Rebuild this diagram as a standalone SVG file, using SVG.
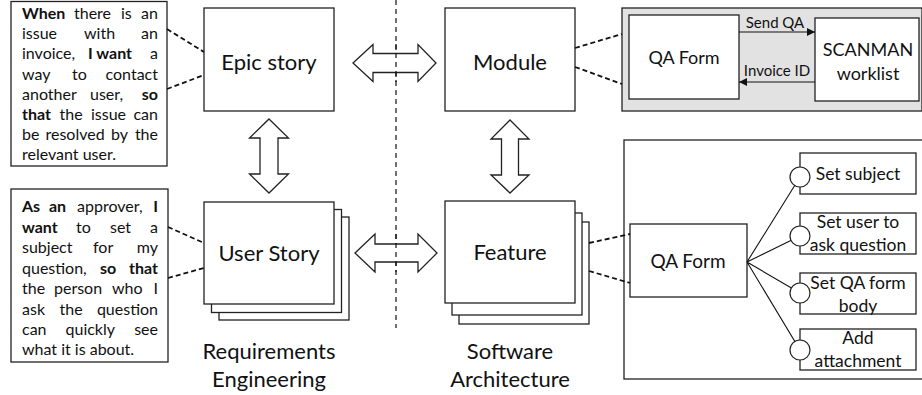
<svg xmlns="http://www.w3.org/2000/svg" width="922" height="395" viewBox="0 0 922 395">
<style>
.box{fill:#fff;stroke:#222;stroke-width:1.3}
.gray{fill:#e2e2e2;stroke:#222;stroke-width:1.3}
.t{font-family:Lato,"Liberation Sans",sans-serif;fill:#111}
.st{font-size:16px}
.b{font-weight:bold}
.lbl{font-size:22px;text-anchor:middle}
.mid{text-anchor:middle}
.end{text-anchor:end}
.dash{fill:none;stroke:#111;stroke-width:1.8;stroke-dasharray:5 3}
.div{fill:none;stroke:#111;stroke-width:1.2;stroke-dasharray:5 4}
.arr{fill:#fff;stroke:#222;stroke-width:1.3;stroke-linejoin:miter}
.ln{fill:none;stroke:#111;stroke-width:1.1}
.circ{fill:#fff;stroke:#222;stroke-width:1.2}
</style>
<defs>
<marker id="ah" viewBox="0 0 10 10" refX="10" refY="5" markerWidth="8" markerHeight="8" markerUnits="userSpaceOnUse" orient="auto">
<path d="M0,0 L10,5 L0,10 Z" fill="#111"/>
</marker>
</defs>

<g id="epic-text">
<rect class="box" x="11" y="1.5" width="156" height="164.5"/>
<g class="t st">
<text y="19"><tspan x="22" class="b">When</tspan><tspan x="74">there</tspan><tspan x="121">is</tspan></text><text class="t st end" x="158" y="19">an</text>
<text y="39"><tspan x="22">issue</tspan><tspan x="84">with</tspan></text><text class="t st end" x="158" y="39">an</text>
<text y="59"><tspan x="22">invoice,</tspan><tspan x="88" class="b">I want</tspan></text><text class="t st end" x="158" y="59">a</text>
<text y="79.5"><tspan x="22">way</tspan><tspan x="72">to</tspan></text><text class="t st end" x="158" y="79.5">contact</text>
<text y="99.5"><tspan x="22">another</tspan><tspan x="90">user,</tspan></text><text class="t st end b" x="158" y="99.5">so</text>
<text y="120"><tspan x="22" class="b">that</tspan><tspan x="59.5">the</tspan><tspan x="91">issue</tspan></text><text class="t st end" x="158" y="120">can</text>
<text y="140"><tspan x="22">be</tspan><tspan x="45.5">resolved</tspan><tspan x="111">by</tspan></text><text class="t st end" x="158" y="140">the</text>
<text x="22" y="160">relevant user.</text>
</g>
</g>

<g id="user-text">
<rect class="box" x="11" y="189" width="157" height="173"/>
<g class="t st">
<text y="212"><tspan x="22" class="b">As</tspan><tspan x="49" class="b">an</tspan><tspan x="77">approver,</tspan></text><text class="t st end b" x="158" y="212">I</text>
<text y="232.5"><tspan x="22" class="b">want</tspan><tspan x="76">to</tspan><tspan x="110">set</tspan></text><text class="t st end" x="158" y="232.5">a</text>
<text y="253"><tspan x="22">subject</tspan><tspan x="93">for</tspan></text><text class="t st end" x="158" y="253">my</text>
<text y="273.5"><tspan x="22">question,</tspan><tspan x="100" class="b">so</tspan></text><text class="t st end b" x="158" y="273.5">that</text>
<text y="294"><tspan x="22">the</tspan><tspan x="54">person</tspan><tspan x="112">who</tspan></text><text class="t st end" x="158" y="294">I</text>
<text y="314.5"><tspan x="22">ask</tspan><tspan x="59.5">the</tspan></text><text class="t st end" x="158" y="314.5">question</text>
<text y="335"><tspan x="22">can</tspan><tspan x="65.5">quickly</tspan></text><text class="t st end" x="158" y="335">see</text>
<text x="22" y="355">what it is about.</text>
</g>
</g>

<g id="epic-story">
<rect class="box" x="204" y="8" width="130" height="103"/>
<text class="t lbl" x="269" y="70">Epic story</text>
</g>

<g id="user-story">
<rect class="box" x="219" y="217" width="130" height="103"/>
<rect class="box" x="211.5" y="209.5" width="130" height="103"/>
<rect class="box" x="204" y="202" width="130" height="102"/>
<text class="t lbl" x="269" y="261">User Story</text>
</g>

<g id="module">
<rect class="box" x="445" y="8" width="130" height="103"/>
<text class="t lbl" x="510" y="70">Module</text>
</g>

<g id="feature">
<rect class="box" x="459" y="222" width="130" height="102"/>
<rect class="box" x="452" y="213" width="130" height="102"/>
<rect class="box" x="445" y="201" width="130" height="102"/>
<text class="t lbl" x="510" y="260">Feature</text>
</g>

<g id="captions">
<text class="t lbl" x="269" y="359">Requirements</text>
<text class="t lbl" x="269" y="387">Engineering</text>
<text class="t lbl" x="510" y="359">Software</text>
<text class="t lbl" x="510" y="387">Architecture</text>
</g>

<g id="module-detail">
<rect class="gray" x="622" y="8" width="300" height="103"/>
<g id="qa-form-top">
<rect class="box" x="629" y="15" width="110" height="84"/>
<text class="t mid" font-size="18" x="684" y="64">QA Form</text>
</g>
<g id="scanman">
<rect class="box" x="815" y="18" width="104" height="83"/>
<text class="t mid" font-size="18" x="868" y="56">SCANMAN</text>
<text class="t mid" font-size="18" x="868" y="80">worklist</text>
</g>
</g>

<g id="feature-detail">
<rect class="box" x="624" y="140" width="299" height="239"/>
<g id="qa-form-bottom">
<rect class="box" x="630" y="224" width="117" height="73"/>
<text class="t mid" font-size="19" x="688" y="268">QA Form</text>
</g>
<g id="set-subject">
<rect class="box" x="800" y="153" width="116" height="41"/>
<text class="t mid" font-size="17.5" x="858" y="180">Set subject</text>
</g>
<g id="set-user">
<rect class="box" x="800" y="213" width="116" height="41"/>
<text class="t mid" font-size="17.5" x="858" y="228">Set user to</text>
<text class="t mid" font-size="17.5" x="858" y="251">ask question</text>
</g>
<g id="set-body">
<rect class="box" x="800" y="273" width="116" height="41"/>
<text class="t mid" font-size="17.5" x="858" y="289">Set QA form</text>
<text class="t mid" font-size="17.5" x="858" y="312">body</text>
</g>
<g id="add-attachment">
<rect class="box" x="800" y="329" width="116" height="41"/>
<text class="t mid" font-size="17.5" x="858" y="344">Add</text>
<text class="t mid" font-size="17.5" x="858" y="367">attachment</text>
</g>
</g>

<g id="connectors">
<line class="div" x1="396" y1="0" x2="396" y2="328"/>
<polygon class="arr" points="353,63 373,44.5 373,53.5 418,53.5 418,44.5 436,63 418,81.5 418,72.5 373,72.5 373,81.5"/>
<polygon class="arr" points="355,253 375,234 375,244 418,244 418,234 437,253 418,272 418,262 375,262 375,272"/>
<polygon class="arr" points="269,119 288.5,138 278,138 278,174 288.5,174 269,193 249.5,174 260,174 260,138 249.5,138"/>
<polygon class="arr" points="510,120 529,139 518.5,139 518.5,175 529,175 510,193 491,175 501.5,175 501.5,139 491,139"/>
<line class="div" x1="396" y1="44" x2="396" y2="82"/>
<line class="div" x1="396" y1="234" x2="396" y2="272"/>
<path class="dash" d="M167,29 L204,52 M167,89 L204,75"/>
<path class="dash" d="M168,227 L204,243 M168,278 L204,268"/>
<path class="dash" d="M575,48 L622,34 M575,67 L622,84"/>
<path class="dash" d="M589,243 L630,234 M589,271 L630,283"/>
<line class="ln" x1="739" y1="32" x2="815" y2="32" marker-end="url(#ah)"/>
<line class="ln" x1="815" y1="82" x2="739" y2="82" marker-end="url(#ah)"/>
<text class="t mid" font-size="15" x="775" y="28">Send QA</text>
<text class="t mid" font-size="15" x="777" y="76">Invoice ID</text>
<path class="ln" d="M747,262 L800,177 M747,262 L800,236 M747,262 L800,293 M747,262 L800,350"/>
<circle class="circ" cx="800" cy="177" r="10"/>
<circle class="circ" cx="800" cy="236" r="10"/>
<circle class="circ" cx="800" cy="293" r="10"/>
<circle class="circ" cx="800" cy="350" r="10"/>
</g>
</svg>
